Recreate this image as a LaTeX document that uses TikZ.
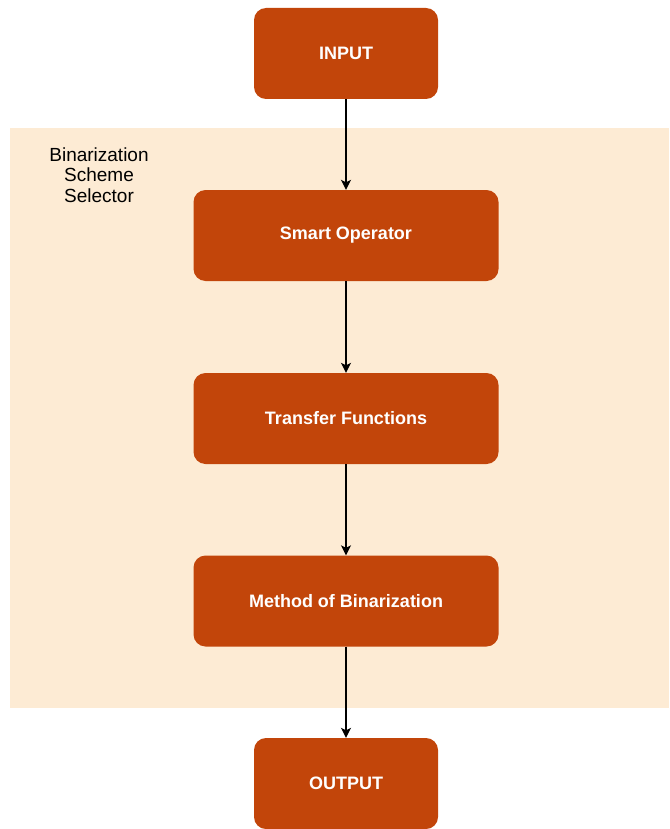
\documentclass[tikz,border=0pt]{standalone}
\usepackage{fontspec}
\setmainfont{Liberation Sans}
\usetikzlibrary{arrows.meta}

\definecolor{rust}{HTML}{C2450A}
\definecolor{peach}{HTML}{FDEBD4}

\begin{document}
\begin{tikzpicture}[x=1pt, y=-1pt,
		block/.style={fill=rust, text=white, rounded corners=12pt, inner sep=0pt,
			minimum height=91pt, font=\fontsize{18}{22}\selectfont\bfseries},
		small/.style={block, minimum width=184pt},
		wide/.style={block, minimum width=305pt},
		flow/.style={line width=1.2pt, -{Stealth[length=10pt, width=10pt, inset=2.5pt]}}]
		\useasboundingbox (0,0) rectangle (669,829);
		
		% selector area
		\fill [peach] (10,128) rectangle (669,708);
		\node [align=center, font=\fontsize{19}{20.5}\selectfont] (sel) at (99,175) {Binarization\\Scheme\\Selector};
		
		\node [small] (in) at (346,53.5) {INPUT};
		\node [wide] (smart) at (346,235.5) {Smart Operator};
		\node [wide] (transfer) at (346,418.5) {Transfer Functions};
		\node [wide] (method) at (346,601) {Method of Binarization};
		\node [small] (out) at (346,783.5) {OUTPUT};
		
		\draw [flow] (in) -- (smart);
		\draw [flow] (smart) -- (transfer);
		\draw [flow] (transfer) -- (method);
		\draw [flow] (method) -- (out);
	\end{tikzpicture}
\end{document}
